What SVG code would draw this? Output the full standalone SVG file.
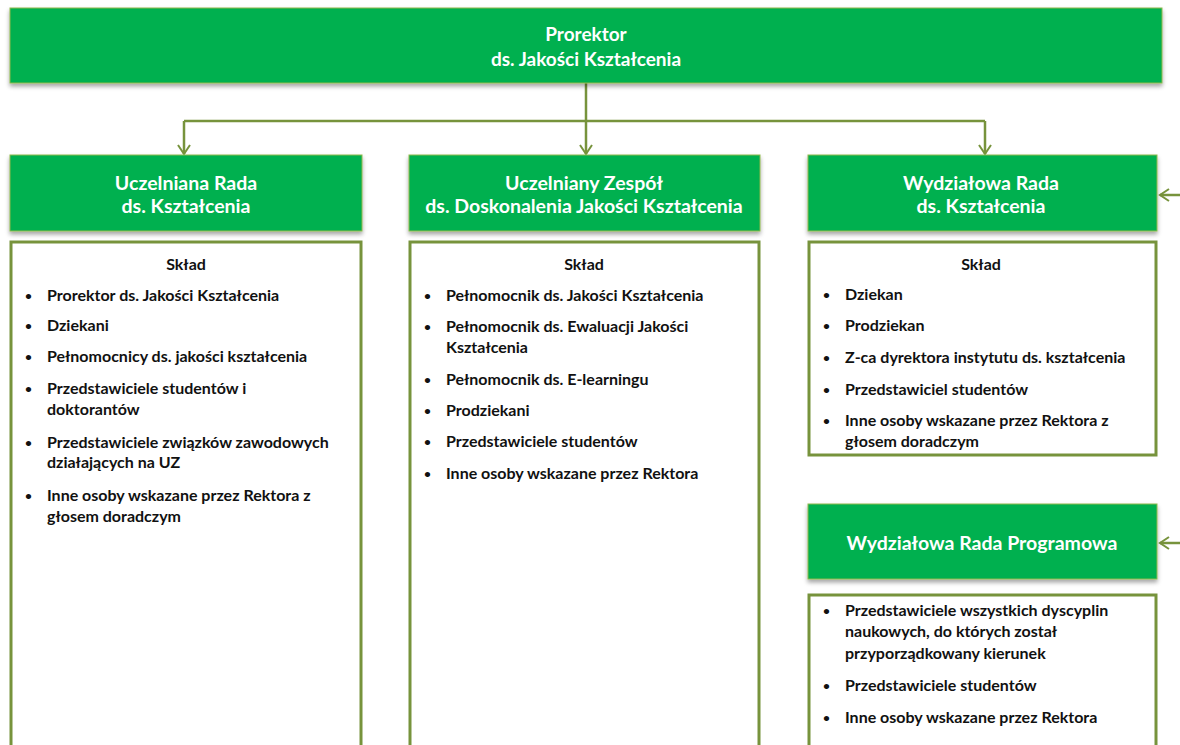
<svg xmlns="http://www.w3.org/2000/svg" width="1180" height="745" viewBox="0 0 1180 745">
<style>
.hdr{fill:#00B050;stroke:#8DB84A;stroke-width:1}
.box{fill:#fff;stroke:#77933C;stroke-width:3}
.ht{font-family:Lato,"Liberation Sans",sans-serif;font-weight:bold;font-size:19.5px;fill:#fff;text-anchor:middle}
.tt{font-family:Lato,"Liberation Sans",sans-serif;font-weight:bold;font-size:19px;fill:#fff;text-anchor:middle}
.ct{font-family:Lato,"Liberation Sans",sans-serif;font-weight:bold;font-size:16px;fill:#111}
.sk{text-anchor:middle}
.b{font-size:12px}
.con{fill:none;stroke:#77933C;stroke-width:2.5}
</style>
<defs>
<filter id="sh" x="-5%" y="-10%" width="110%" height="130%">
<feDropShadow dx="0" dy="3" stdDeviation="2" flood-color="#000" flood-opacity="0.35"/>
</filter>
<marker id="arr" markerWidth="14" markerHeight="14" refX="11" refY="7" orient="auto" markerUnits="userSpaceOnUse">
<path d="M2,1 L11,7 L2,13" fill="none" stroke="#77933C" stroke-width="2"/>
</marker>
</defs>

<g id="connectors">
<path class="con" d="M586,83 V121"/>
<path class="con" d="M184,121 H985"/>
<path class="con" d="M184,121 V154" marker-end="url(#arr)"/>
<path class="con" d="M586,121 V154" marker-end="url(#arr)"/>
<path class="con" d="M985,121 V154" marker-end="url(#arr)"/>
<path class="con" d="M1180,195 H1160" marker-end="url(#arr)"/>
<path class="con" d="M1180,543 H1160" marker-end="url(#arr)"/>
</g>

<g id="prorektor">
<rect class="hdr" x="10" y="8" width="1152" height="75" filter="url(#sh)"/>
<text class="tt" x="586" y="41">Prorektor</text>
<text class="tt" x="586" y="66">ds. Jakości Kształcenia</text>
</g>

<g id="uczelniana-rada">
<rect class="hdr" x="10" y="155" width="352" height="76" filter="url(#sh)"/>
<text class="ht" x="186" y="190">Uczelniana Rada</text>
<text class="ht" x="186" y="213">ds. Kształcenia</text>
</g>

<g id="uczelniany-zespol">
<rect class="hdr" x="409" y="155" width="351" height="76" filter="url(#sh)"/>
<text class="ht" x="584" y="190">Uczelniany Zespół</text>
<text class="ht" x="584" y="213">ds. Doskonalenia Jakości Kształcenia</text>
</g>

<g id="wydzialowa-rada">
<rect class="hdr" x="808" y="155" width="349" height="76" filter="url(#sh)"/>
<text class="ht" x="981" y="190">Wydziałowa Rada</text>
<text class="ht" x="981" y="213">ds. Kształcenia</text>
</g>

<g id="wydzialowa-rada-programowa">
<rect class="hdr" x="808" y="504" width="349" height="75" filter="url(#sh)"/>
<text class="ht" x="982" y="550">Wydziałowa Rada Programowa</text>
</g>

<g id="sklad-uczelniana">
<rect class="box" x="11" y="242" width="350" height="520"/>
<text class="ct sk" x="186" y="270">Skład</text>
<g class="ct">
<text class="b" x="25" y="300">•</text><text x="47" y="301">Prorektor ds. Jakości Kształcenia</text>
<text class="b" x="25" y="330">•</text><text x="47" y="331">Dziekani</text>
<text class="b" x="25" y="361">•</text><text x="47" y="362">Pełnomocnicy ds. jakości kształcenia</text>
<text class="b" x="25" y="393">•</text><text x="47" y="394">Przedstawiciele studentów i</text>
<text x="47" y="415">doktorantów</text>
<text class="b" x="25" y="447">•</text><text x="47" y="448">Przedstawiciele związków zawodowych</text>
<text x="47" y="468">działających na UZ</text>
<text class="b" x="25" y="500">•</text><text x="47" y="501">Inne osoby wskazane przez Rektora z</text>
<text x="47" y="522">głosem doradczym</text>
</g>
</g>

<g id="sklad-zespol">
<rect class="box" x="410" y="242" width="349" height="520"/>
<text class="ct sk" x="584" y="270">Skład</text>
<g class="ct">
<text class="b" x="424" y="300">•</text><text x="446" y="301">Pełnomocnik ds. Jakości Kształcenia</text>
<text class="b" x="424" y="331">•</text><text x="446" y="332">Pełnomocnik ds. Ewaluacji Jakości</text>
<text x="446" y="353">Kształcenia</text>
<text class="b" x="424" y="384">•</text><text x="446" y="385">Pełnomocnik ds. E-learningu</text>
<text class="b" x="424" y="415">•</text><text x="446" y="416">Prodziekani</text>
<text class="b" x="424" y="446">•</text><text x="446" y="447">Przedstawiciele studentów</text>
<text class="b" x="424" y="478">•</text><text x="446" y="479">Inne osoby wskazane przez Rektora</text>
</g>
</g>

<g id="sklad-wydzialowa">
<rect class="box" x="809" y="242" width="347" height="213"/>
<text class="ct sk" x="981" y="270">Skład</text>
<g class="ct">
<text class="b" x="823" y="299">•</text><text x="845" y="300">Dziekan</text>
<text class="b" x="823" y="330">•</text><text x="845" y="331">Prodziekan</text>
<text class="b" x="823" y="362">•</text><text x="845" y="363">Z-ca dyrektora instytutu ds. kształcenia</text>
<text class="b" x="823" y="394">•</text><text x="845" y="395">Przedstawiciel studentów</text>
<text class="b" x="823" y="425">•</text><text x="845" y="426">Inne osoby wskazane przez Rektora z</text>
<text x="845" y="447">głosem doradczym</text>
</g>
</g>

<g id="sklad-programowa">
<rect class="box" x="809" y="595" width="347" height="170"/>
<g class="ct">
<text class="b" x="823" y="615">•</text><text x="845" y="616">Przedstawiciele wszystkich dyscyplin</text>
<text x="845" y="637">naukowych, do których został</text>
<text x="845" y="659">przyporządkowany kierunek</text>
<text class="b" x="823" y="690">•</text><text x="845" y="691">Przedstawiciele studentów</text>
<text class="b" x="823" y="722">•</text><text x="845" y="723">Inne osoby wskazane przez Rektora</text>
</g>
</g>
</svg>
